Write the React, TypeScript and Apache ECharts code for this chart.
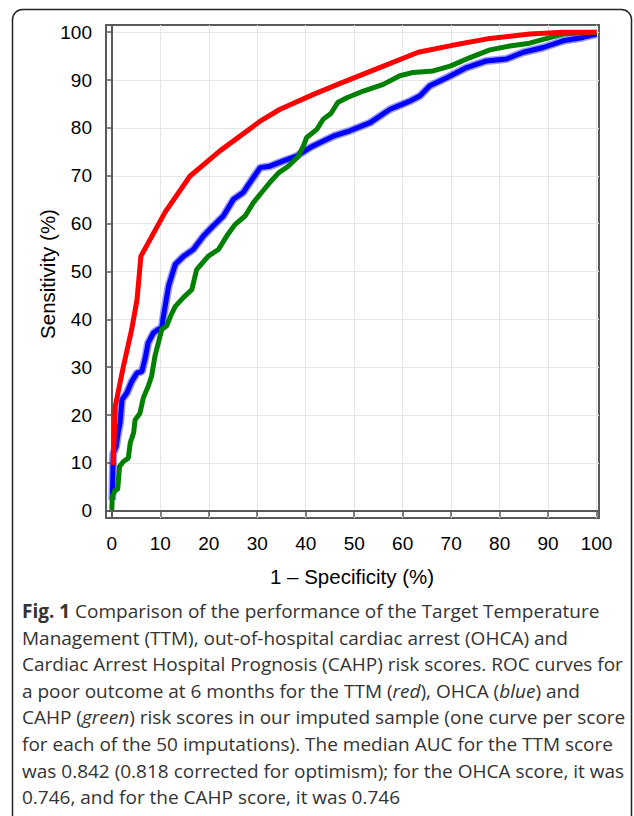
import React, { useEffect, useRef } from "react";
import * as echarts from "echarts";

// 1 - specificity (%), sensitivity (%)
const ttmX = [0.3, 0.7, 2.4, 4.1, 5.2, 6.0, 11.0, 16.1, 22.3, 30.6, 34.7, 41.6, 47.1, 55.0, 63.2, 70.0, 78.0, 86.2, 93.1, 100];
const ttmY = [9.6, 21.8, 30.2, 37.9, 44.1, 53.2, 62.4, 69.9, 75.2, 81.4, 83.9, 87.0, 89.3, 92.5, 95.8, 97.2, 98.7, 99.6, 100, 100];

const ohcaX = [0.1, 0.3, 0.9, 1.4, 1.7, 2.1, 3.1, 4.1, 5.2, 6.2, 6.9, 7.5, 8.6, 9.6, 10.3, 10.6, 11.7, 13.1, 14.8, 16.8, 18.9, 20.9, 23.0, 25.1, 27.1, 28.5, 30.6, 32.6, 35.4, 38.1, 40.9, 42.9, 46.0, 49.1, 53.3, 57.4, 61.5, 63.6, 65.6, 69.1, 73.2, 77.3, 81.4, 84.9, 89.0, 93.1, 97.2, 100];
const ohcaY = [2.3, 12.0, 13.5, 16.9, 18.3, 23.2, 24.6, 27.0, 28.8, 29.1, 31.9, 35.1, 37.2, 37.9, 38.2, 40.3, 46.9, 51.5, 53.2, 54.6, 57.4, 59.5, 61.6, 65.1, 66.5, 68.6, 71.7, 72.0, 73.1, 74.1, 75.9, 76.9, 78.4, 79.4, 81.1, 83.9, 85.6, 86.7, 88.8, 90.5, 92.6, 94.0, 94.4, 95.8, 96.8, 98.2, 98.9, 99.6];

const cahpX = [0.0, 0.1, 0.7, 1.2, 1.6, 2.4, 3.4, 3.8, 4.5, 4.8, 5.8, 6.5, 7.5, 8.2, 8.9, 9.6, 10.3, 11.3, 12.2, 13.1, 14.8, 16.5, 17.5, 19.9, 22.0, 23.7, 25.4, 27.5, 29.2, 30.9, 32.6, 34.4, 36.4, 38.5, 39.5, 40.2, 42.3, 43.6, 45.2, 46.6, 48.5, 51.9, 56.0, 59.4, 62.2, 66.3, 69.8, 73.9, 78.0, 82.1, 86.2, 89.0, 93.1, 97.2, 100];
const cahpY = [0.2, 3.0, 4.4, 4.4, 9.3, 10.3, 11.0, 14.2, 16.3, 19.0, 20.4, 23.6, 26.0, 28.1, 32.3, 35.1, 37.9, 38.6, 40.9, 42.7, 44.6, 46.2, 50.4, 53.2, 54.6, 57.4, 59.8, 61.6, 64.4, 66.5, 68.6, 70.6, 72.0, 74.1, 76.2, 78.0, 79.7, 81.8, 83.0, 85.3, 86.3, 87.7, 89.1, 90.9, 91.6, 91.9, 92.9, 94.7, 96.3, 97.1, 97.7, 98.5, 99.6, 99.9, 100];

const tickValues = [0, 10, 20, 30, 40, 50, 60, 70, 80, 90, 100];

const xTitle = "1 \u2013 Specificity (%)";
const yTitle = "Sensitivity (%)";
const captionLines = [
  "{b|Fig. 1} Comparison of the performance of the Target Temperature",
  "Management (TTM), out-of-hospital cardiac arrest (OHCA) and",
  "Cardiac Arrest Hospital Prognosis (CAHP) risk scores. ROC curves for",
  "a poor outcome at 6 months for the TTM ({i|red}), OHCA ({i|blue}) and",
  "CAHP ({i|green}) risk scores in our imputed sample (one curve per score",
  "for each of the 50 imputations). The median AUC for the TTM score",
  "was 0.842 (0.818 corrected for optimism); for the OHCA score, it was",
  "0.746, and for the CAHP score, it was 0.746",
];

const zip = (xs: number[], ys: number[]) => xs.map((x, i) => [x, ys[i]]);

export default function App() {
  const ref = useRef<HTMLDivElement>(null);
  useEffect(() => {
    document.body.style.margin = "0";
    const chart = echarts.init(ref.current!, null, { renderer: "svg" });
    const axisFont = "Liberation Sans";
    const capFont = "Open Sans";
    const capSize = 19;
    const capColor = "#333";
    chart.setOption({
      animation: false,
      backgroundColor: "#fff",
      grid: {
        left: 106,
        top: 25,
        width: 493,
        height: 493,
        show: true,
        borderColor: "#5a5a5a",
        borderWidth: 2,
      },
      xAxis: {
        type: "value",
        min: -1.2,
        max: 100.5,
        axisLine: { show: true, lineStyle: { color: "#5a5a5a", width: 2 } },
        axisTick: { show: true, length: 6, customValues: tickValues, lineStyle: { color: "#5a5a5a", width: 1.5 } },
        axisLabel: { customValues: tickValues, margin: 16, color: "#000", fontSize: 19, fontFamily: axisFont },
        splitLine: { show: true, lineStyle: { color: "#e6e6e6", width: 1 } },
      },
      yAxis: {
        type: "value",
        min: -1.5,
        max: 101.5,
        axisLine: { show: true, lineStyle: { color: "#5a5a5a", width: 2 } },
        axisTick: { show: true, length: 6, customValues: tickValues, lineStyle: { color: "#5a5a5a", width: 1.5 } },
        axisLabel: { customValues: tickValues, margin: 14, color: "#000", fontSize: 19, fontFamily: axisFont },
        splitLine: { show: true, lineStyle: { color: "#e6e6e6", width: 1 } },
      },
      series: [
        {
          type: "line",
          data: zip(ohcaX, ohcaY),
          showSymbol: false,
          lineStyle: { color: "#2020ff", width: 8, opacity: 0.45 },
          silent: true,
        },
        {
          type: "line",
          data: zip(ohcaX, ohcaY),
          showSymbol: false,
          lineStyle: { color: "#0000ff", width: 5 },
        },
        {
          type: "line",
          data: zip(cahpX, cahpY),
          showSymbol: false,
          lineStyle: { color: "#008000", width: 5 },
        },
        {
          type: "line",
          data: zip(ttmX, ttmY),
          showSymbol: false,
          lineStyle: { color: "#ff0000", width: 5 },
        },
      ],
      graphic: [
        {
          type: "rect",
          shape: { x: 12.5, y: 9.5, width: 619, height: 900, r: 10 },
          style: { fill: "none", stroke: "#222", lineWidth: 1.5 },
          z: 0,
        },
        {
          type: "text",
          x: 352,
          y: 576,
          style: {
            text: xTitle,
            fontSize: 20.5,
            fontFamily: axisFont,
            fill: "#000",
            align: "center",
            verticalAlign: "middle",
          },
        },
        {
          type: "text",
          x: 47,
          y: 274,
          rotation: Math.PI / 2,
          style: {
            text: yTitle,
            fontSize: 20.5,
            fontFamily: axisFont,
            fill: "#000",
            align: "center",
            verticalAlign: "middle",
          },
        },
        ...captionLines.map((t, i) => ({
          type: "text",
          x: 22,
          y: 611 + i * 26.6,
          style: {
            text: t,
            fontSize: capSize,
            fontFamily: capFont,
            fill: capColor,
            align: "left",
            verticalAlign: "middle",
            rich: {
              b: { fontWeight: "bold", fontSize: capSize, fontFamily: capFont, fill: capColor, color: capColor },
              i: { fontStyle: "italic", fontSize: capSize, fontFamily: capFont, fill: capColor, color: capColor },
            },
          },
        })),
      ],
    });
    return () => chart.dispose();
  }, []);
  return <div ref={ref} style={{ width: 634, height: 816 }} />;
}
